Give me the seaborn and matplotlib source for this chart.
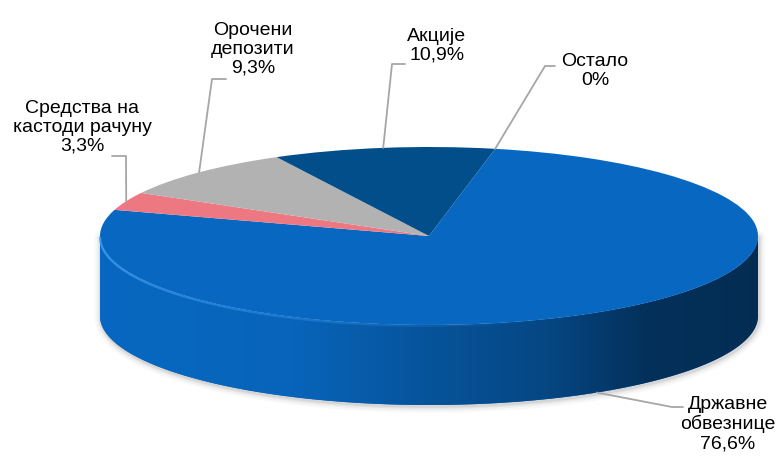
import numpy as np
import matplotlib
matplotlib.use("Agg")
import matplotlib.pyplot as plt
import seaborn as sns
from matplotlib.patches import Wedge, Polygon
from matplotlib.transforms import Affine2D
from matplotlib.colors import LinearSegmentedColormap, to_rgb
from matplotlib.collections import LineCollection

# ---------------- data ----------------
categories = ["Државне\nобвезнице", "Средства на\nкастоди рачуну",
              "Орочени\nдепозити", "Акције", "Остало"]
values = [76.6, 3.3, 9.3, 10.9, 0.0]
value_labels = ["76,6%", "3,3%", "9,3%", "10,9%", "0%"]
colors = ["#0868C1", "#EE7881", "#B2B2B2", "#024E8A", "#7F7F7F"]

# ---------------- layout / style ----------------
sns.set_theme(style="white")
plt.rcParams["font.family"] = ["Liberation Sans", "DejaVu Sans"]

CX, CY, A, B, D = 429, 236, 329, 89, 80     # ellipse centre, semi-axes, depth (px)
START = 11.6                                 # first slice start, deg clockwise from 12 o'clock

# label centres and leader elbows (pixel layout)
label_pos = [(728, 424), (82, 127), (253, 49), (437, 46), (595, 71)]
elbows = [[(672, 407), (683, 407)],
          [(126, 156), (112, 156)],
          [(212, 79), (226, 79)],
          [(392, 64), (405, 64)],
          [(545, 66), (555, 66)]]
wall_factors = [(0.0, 1.0), (0.3, 0.96), (0.5, 0.80), (0.68, 0.68),
                (0.83, 0.47), (1.0, 0.43)]

fig = plt.figure(figsize=(7.78, 4.57), dpi=100)
ax = fig.add_axes([0, 0, 1, 1])
ax.set_xlim(0, 778)
ax.set_ylim(457, 0)
ax.axis("off")

unit = Affine2D().scale(A, -B).translate(CX, CY) + ax.transData


def pt(phi, dz=0.0):
    p = np.radians(phi)
    return CX + A * np.sin(p), CY - B * np.cos(p) + dz


vals = np.asarray(values, float)
frac = vals / vals.sum()
ends = START + 360 * np.cumsum(frac)
starts = ends - 360 * frac

# ---------------- shadow ----------------
ph = np.linspace(90, 270, 200)
sx, sy = pt(ph, D)
sx = np.concatenate([[CX + A], sx, [CX - A]])
sy = np.concatenate([[CY], sy, [CY]])
for lw, al in [(9, 0.05), (6, 0.07), (3.5, 0.10), (1.8, 0.14)]:
    ax.plot(sx + 1, sy + 1.5, color="#808080", lw=lw, alpha=al,
            solid_capstyle="round", zorder=1)

# ---------------- side wall ----------------
grad = np.linspace(0, 1, 512)[None, :]
for s, e, c, v in zip(starts, ends, colors, vals):
    if v <= 0:
        continue
    base = np.array(to_rgb(c))
    cmap = LinearSegmentedColormap.from_list(
        "w", [(p, tuple(np.clip(base * f, 0, 1))) for p, f in wall_factors])
    for k in (-360, 0, 360):
        lo, hi = max(s + k, 90), min(e + k, 270)
        if hi <= lo:
            continue
        phs = np.linspace(lo, hi, 200)
        tx, ty = pt(phs)
        bx, by = pt(phs[::-1], D)
        poly = Polygon(np.column_stack([np.r_[tx, bx], np.r_[ty, by]]),
                       closed=True, facecolor=c, edgecolor="none",
                       transform=ax.transData, zorder=2)
        ax.add_patch(poly)
        im = ax.imshow(grad, extent=(CX - A, CX + A, CY + B + D + 5, CY - 5),
                       cmap=cmap, aspect="auto", interpolation="bilinear",
                       zorder=2.1)
        im.set_clip_path(poly)

# ---------------- top face ----------------
for s, e, c, v in zip(starts, ends, colors, vals):
    if v <= 0:
        continue
    ax.add_patch(Wedge((0, 0), 1, 90 - e, 90 - s, transform=unit,
                       facecolor=c, edgecolor="none", zorder=3))

# rim highlight along the front edge
ph = np.linspace(270, 160, 200)
hx, hy = pt(ph)
hy = hy + 1.0
segs = np.stack([np.column_stack([hx[:-1], hy[:-1]]),
                 np.column_stack([hx[1:], hy[1:]])], axis=1)
alphas = np.clip(1 - np.linspace(0, 1, len(segs)) ** 0.8, 0, 1) * 0.9
rgba = np.tile(np.array([*to_rgb("#4AA6FF"), 1.0]), (len(segs), 1))
rgba[:, 3] = alphas
ax.add_collection(LineCollection(segs, colors=rgba, linewidths=1.6, zorder=4))

# ---------------- leader lines & labels ----------------
for s, e, lab, vl, (lx, ly), elb in zip(starts, ends, categories, value_labels,
                                         label_pos, elbows):
    mid = ((s + e) / 2) % 360
    ax_, ay_ = pt(mid, D if 90 < mid < 270 else 0)
    xs = [ax_] + [p[0] for p in elb]
    ys = [ay_] + [p[1] for p in elb]
    ax.plot(xs, ys, color="#A6A6A6", lw=1.3, zorder=5)
    ax.text(lx, ly, f"{lab}\n{vl}", ha="center", va="center",
            fontsize=14, color="#000000", linespacing=1.15, zorder=6)

fig.savefig("out.png", dpi=100)
